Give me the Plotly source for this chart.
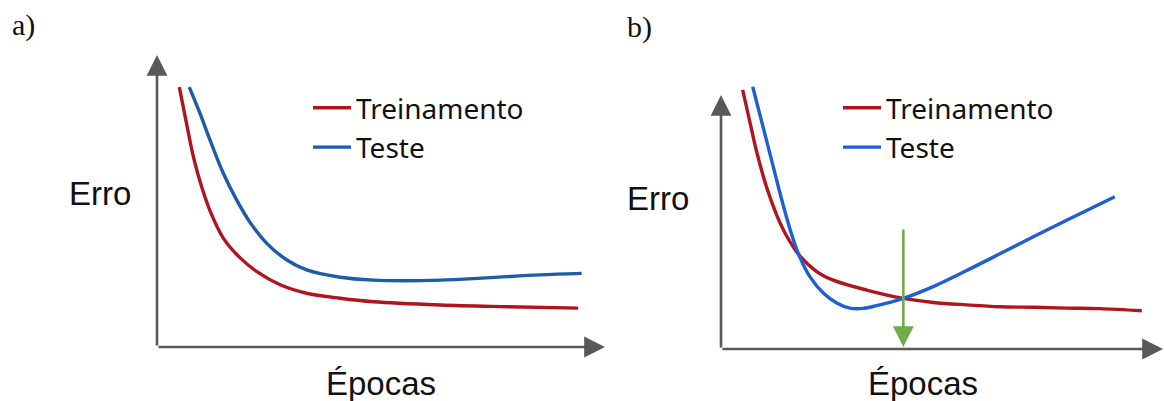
import plotly.graph_objects as go

# Curva de erro por época (unidades arbitrárias: época 0-100, erro 0-100)
# Painel a) - treino e teste descem juntos
a_treino_x = [4.98, 6.6, 8.1, 9.9, 11.8, 14.8, 18.5, 22.3, 27.5, 33.4, 40.9, 48.3, 63.2, 78.1, 94.0]
a_treino_y = [89.0, 76.5, 65.3, 55.2, 46.8, 37.3, 30.6, 25.8, 21.3, 18.4, 16.7, 15.5, 14.4, 13.8, 13.3]
a_teste_x = [7.2, 9.6, 11.8, 14.8, 17.8, 20.8, 24.5, 29.0, 33.4, 40.9, 48.3, 55.7, 63.2, 70.6, 78.1, 85.5, 94.8]
a_teste_y = [89.0, 80.0, 71.0, 59.5, 50.3, 42.6, 35.5, 29.8, 26.4, 23.9, 22.9, 22.7, 22.9, 23.4, 24.1, 24.7, 25.2]

# Painel b) - o erro de teste volta a subir (sobreajuste)
b_treino_x = [4.9, 6.56, 8.08, 10.34, 12.6, 14.86, 17.87, 21.65, 25.4, 32.96, 41.25, 48.04,
              55.6, 63.1, 70.66, 78.2, 85.7, 95.2]
b_treino_y = [96.3, 84.2, 73.3, 60.0, 49.8, 42.0, 34.5, 28.8, 25.6, 21.9, 18.8, 17.3,
              16.4, 15.7, 15.5, 15.2, 15.0, 14.2]
b_teste_x = [7.17, 8.82, 10.34, 12.22, 14.1, 16.0, 17.87, 20.14, 23.15, 26.17, 29.19, 32.2,
             35.2, 38.2, 41.25, 48.0, 55.6, 63.1, 70.66, 78.2, 89.1]
b_teste_y = [97.5, 87.0, 77.3, 65.2, 53.3, 42.5, 34.0, 26.8, 20.8, 17.1, 15.2, 15.1,
             16.1, 17.3, 18.8, 23.2, 29.2, 35.4, 41.7, 47.9, 56.6]

# Ponto de parada antecipada (cruzamento das curvas em b)
parada_x = 41.25
parada_y = [45.0, 0.7]

series_nomes = ["Treinamento", "Teste"]
eixo_x_titulo = "Épocas"
eixo_y_titulo = "Erro"
paineis = ["a)", "b)"]

W, H = 1164, 401
VERMELHO = "#B0141C"
AZUL_A = "#1C5CA8"
AZUL_B = "#1F5FD6"
VERDE = "#70AD47"
CINZA = "#595959"

fig = go.Figure()

def curva(x, y, nome, cor, xa, ya, leg, grupo):
    fig.add_trace(go.Scatter(x=x, y=y, name=nome, mode="lines",
                             line=dict(color=cor, width=3.4, shape="spline", smoothing=1.0),
                             xaxis=xa, yaxis=ya, legend=leg, legendgroup=grupo))

curva(a_treino_x, a_treino_y, series_nomes[0], VERMELHO, "x", "y", "legend", "a1")
curva(a_teste_x, a_teste_y, series_nomes[1], AZUL_A, "x", "y", "legend", "a2")
curva(b_treino_x, b_treino_y, series_nomes[0], VERMELHO, "x2", "y2", "legend2", "b1")
curva(b_teste_x, b_teste_y, series_nomes[1], AZUL_B, "x2", "y2", "legend2", "b2")

eixo = dict(visible=False, range=[0, 100], fixedrange=True)

def px_x(p):
    return p / W

def px_y(p):
    return 1 - p / H

legenda = dict(xanchor="left", yanchor="top",
               font=dict(family="Noto Sans", size=28, color="#111"),
               bgcolor="rgba(0,0,0,0)", itemwidth=38, tracegroupgap=0,
               traceorder="grouped")

fig.update_layout(
    width=W, height=H,
    margin=dict(l=0, r=0, t=0, b=0),
    paper_bgcolor="white", plot_bgcolor="rgba(0,0,0,0)",
    xaxis=dict(eixo, domain=[px_x(157), px_x(605)]),
    yaxis=dict(eixo, domain=[px_y(347), px_y(55)]),
    xaxis2=dict(eixo, domain=[px_x(721), px_x(1163)]),
    yaxis2=dict(eixo, domain=[px_y(349), px_y(80)]),
    showlegend=True,
    legend=dict(legenda, x=px_x(308), y=px_y(83)),
    legend2=dict(legenda, x=px_x(838), y=px_y(83)),
)

anots = []

def seta(xr, yr, x, y, ax, ay, cor, largura, tamanho):
    anots.append(dict(xref=xr, yref=yr, axref=xr, ayref=yr, x=x, y=y, ax=ax, ay=ay,
                      showarrow=True, arrowhead=2, arrowsize=tamanho, arrowwidth=largura,
                      arrowcolor=cor, text="", standoff=0))

# Eixos com setas
seta("x", "y", 0, 100, 0, 0, CINZA, 2.6, 1.6)
seta("x", "y", 100, 0, 0, 0, CINZA, 2.6, 1.6)
seta("x2", "y2", 0, 94.4, 0, 0, CINZA, 2.6, 1.6)
seta("x2", "y2", 100, 0, 0, 0, CINZA, 2.6, 1.6)
# Seta verde de parada
seta("x2", "y2", parada_x, parada_y[1], parada_x, parada_y[0], VERDE, 2.6, 1.6)

def texto(px, py, t, fonte):
    anots.append(dict(xref="paper", yref="paper", x=px_x(px), y=px_y(py), text=t,
                      showarrow=False, xanchor="center", yanchor="middle", font=fonte))

rotulo = dict(family="Liberation Sans", size=33, color="#111")
texto(100, 193, eixo_y_titulo, rotulo)
texto(381, 383, eixo_x_titulo, rotulo)
texto(658, 198, eixo_y_titulo, rotulo)
texto(923, 383, eixo_x_titulo, rotulo)

painel_fonte = dict(family="Liberation Serif", size=30, color="#111")
texto(23, 25, paineis[0], painel_fonte)
texto(639, 27, paineis[1], painel_fonte)

fig.update_layout(annotations=anots)

fig.write_html("out.html", config=dict(displayModeBar=False))
